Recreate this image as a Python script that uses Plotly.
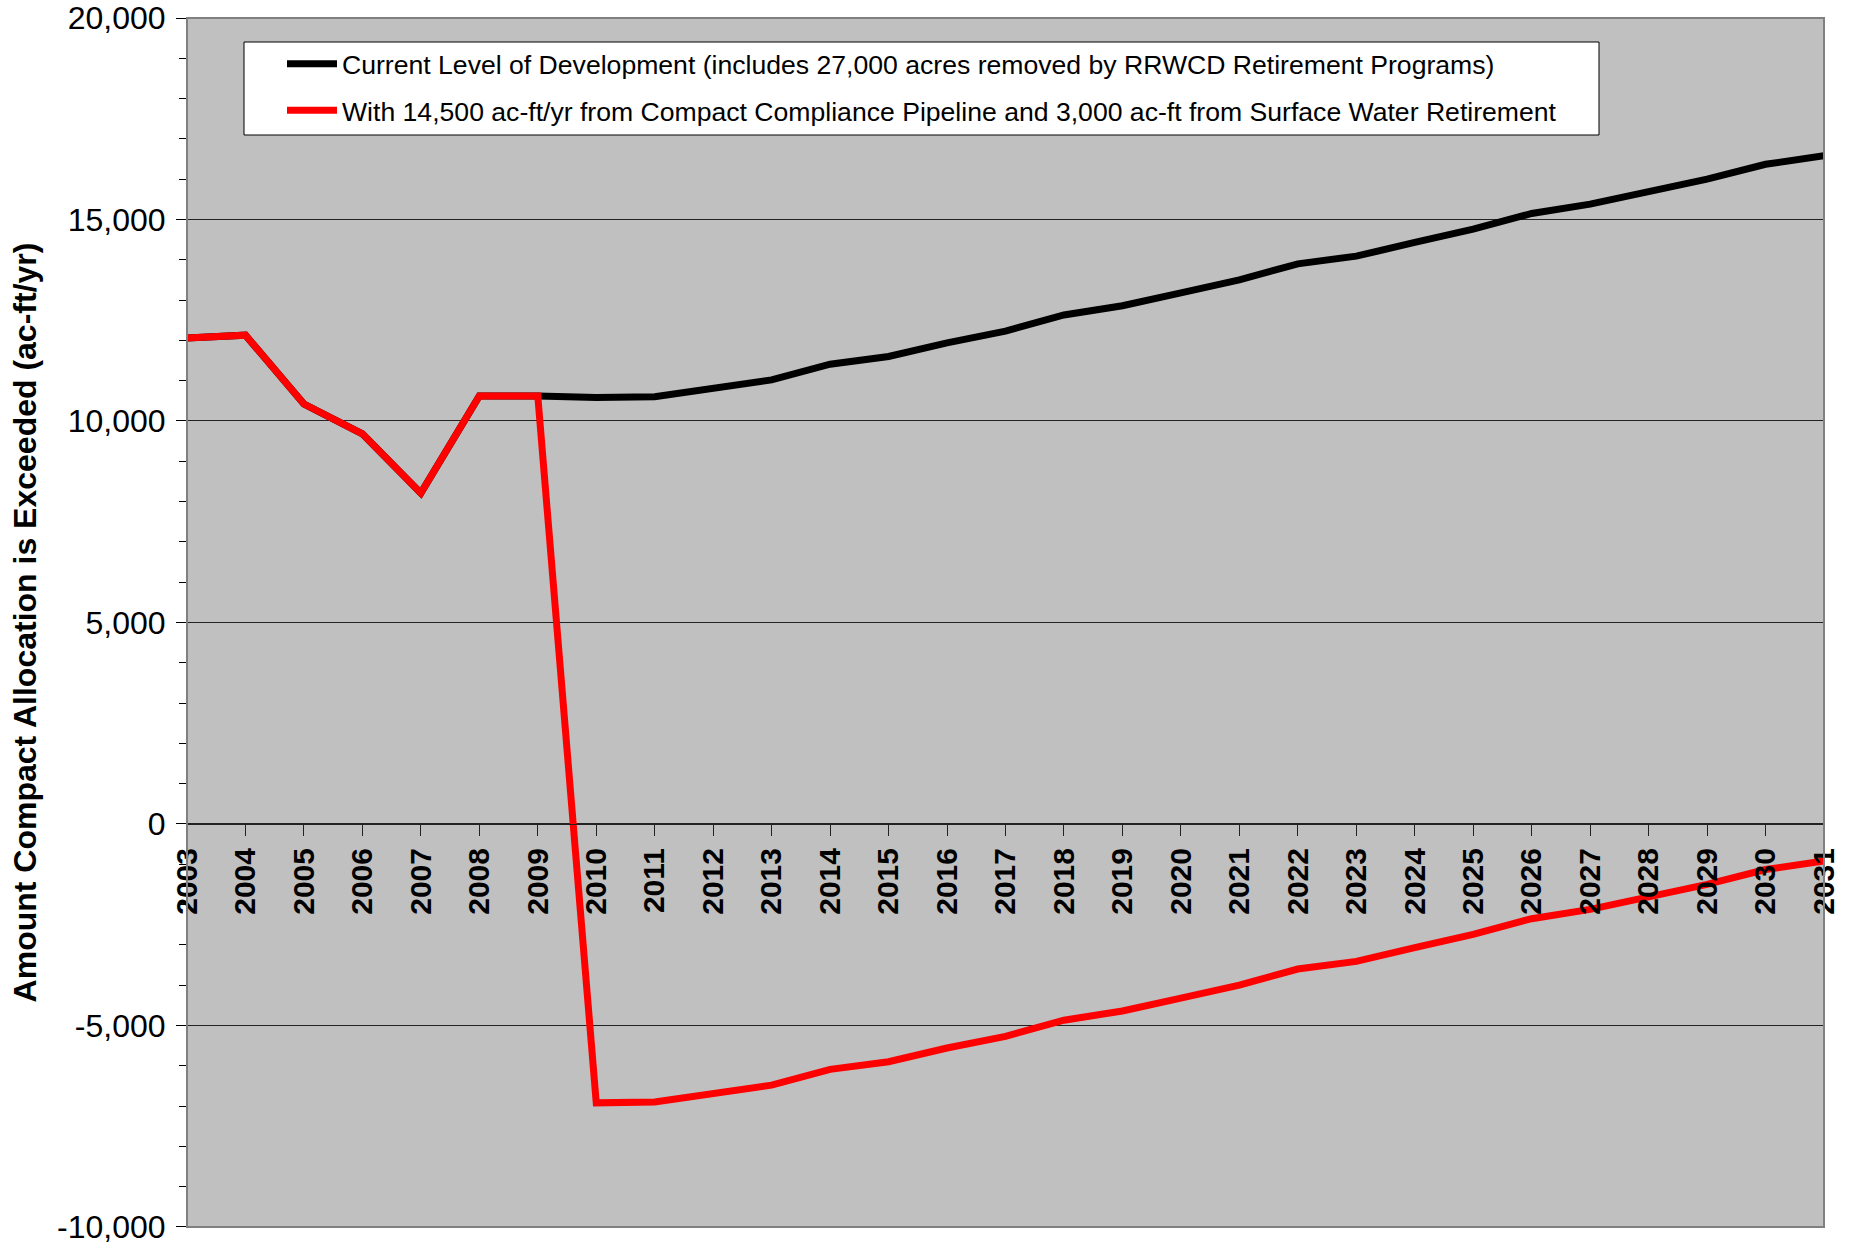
import plotly.graph_objects as go

years = list(range(2003, 2032))
year_labels = [str(y) for y in years]

current_dev = [12060, 12130, 10420, 9680, 8210, 10620, 10620, 10580, 10600, 10810,
               11020, 11410, 11600, 11940, 12230, 12630, 12860, 13180, 13500, 13900,
               14090, 14430, 14760, 15150, 15380, 15690, 16000, 16370, 16580]

with_pipeline = [12060, 12130, 10420, 9680, 8210, 10620, 10620, -6920, -6900, -6690,
                 -6480, -6090, -5900, -5560, -5270, -4870, -4640, -4320, -4000, -3600,
                 -3410, -3070, -2740, -2350, -2120, -1810, -1500, -1130, -920]

series_names = [
    "Current Level of Development (includes 27,000 acres removed by RRWCD Retirement Programs)",
    "With 14,500 ac-ft/yr from Compact Compliance Pipeline and 3,000 ac-ft from Surface Water Retirement",
]

y_tick_vals = [-10000, -5000, 0, 5000, 10000, 15000, 20000]
y_tick_text = ["-10,000", "-5,000", "0", "5,000", "10,000", "15,000", "20,000"]

y_min, y_max = -10000, 20000

FONT = "Arial, Liberation Sans, sans-serif"

# plot area in page pixels
PL, PR, PT, PB = 187, 1824, 18, 1227
W, H = 1858, 1243
pw, ph = PR - PL, PB - PT

fig = go.Figure()
fig.add_trace(go.Scatter(x=years, y=current_dev, mode="lines", name=series_names[0],
                         line=dict(color="#000000", width=7), legendgroup="a"))
fig.add_trace(go.Scatter(x=years, y=with_pipeline, mode="lines", name=series_names[1],
                         line=dict(color="#FF0000", width=7), legendgroup="b"))

zero_pos = (0 - y_min) / (y_max - y_min)

fig.update_layout(
    width=W, height=H,
    margin=dict(l=PL, r=W - PR, t=PT, b=H - PB),
    paper_bgcolor="white",
    plot_bgcolor="#C0C0C0",
    font=dict(family=FONT, color="black"),
    showlegend=True,
    legend=dict(
        x=95 / pw, y=1 - (42 - PT - 2) / ph, xanchor="left", yanchor="top",
        bgcolor="rgba(0,0,0,0)", borderwidth=0,
        font=dict(size=26.6, family=FONT),
        tracegroupgap=9, traceorder="grouped",
        itemwidth=50,
    ),
    xaxis=dict(
        range=[years[0], years[-1]],
        tickvals=years, ticktext=year_labels,
        tickangle=-90,
        tickfont=dict(size=30, family=FONT, weight="bold"),
        ticks="outside", ticklen=11, tickcolor="#222222", tickwidth=1,
        showline=True, linecolor="#222222", linewidth=1,
        showgrid=False, zeroline=False,
        anchor="free", position=zero_pos,
        ticklabelstandoff=0,
    ),
    yaxis=dict(
        range=[y_min - 1, y_max],
        tickvals=y_tick_vals, ticktext=y_tick_text,
        tickfont=dict(size=32, family=FONT),
        ticks="outside", ticklen=10, tickcolor="black", tickwidth=1,
        minor=dict(dtick=1000, tick0=0, ticks="outside", ticklen=7, tickcolor="black", showgrid=False),
        showline=True, linecolor="black", linewidth=1,
        showgrid=True, gridcolor="#222222", gridwidth=1,
        zeroline=False,
        ticklabelstandoff=4,
        ticklabeloverflow="allow",
        title=dict(text="Amount Compact Allocation is Exceeded (ac-ft/yr)",
                   font=dict(size=32, family=FONT, weight="bold"), standoff=10),
        automargin=False,
    ),
    shapes=[
        dict(type="rect", xref="paper", yref="paper", x0=0, x1=1, y0=0, y1=1,
             line=dict(color="#808080", width=2), fillcolor="rgba(0,0,0,0)", layer="above"),
        dict(type="rect", xref="paper", yref="paper",
             x0=(244 - PL) / pw, x1=(1599 - PL) / pw,
             y0=(PB - 135) / ph, y1=(PB - 42) / ph,
             line=dict(color="black", width=1), fillcolor="white", layer="below"),
    ],
)

fig.write_html("out.html",
               config={"displayModeBar": False, "staticPlot": True},
               post_script="document.body.style.margin='0px';document.body.style.overflow='hidden';")
